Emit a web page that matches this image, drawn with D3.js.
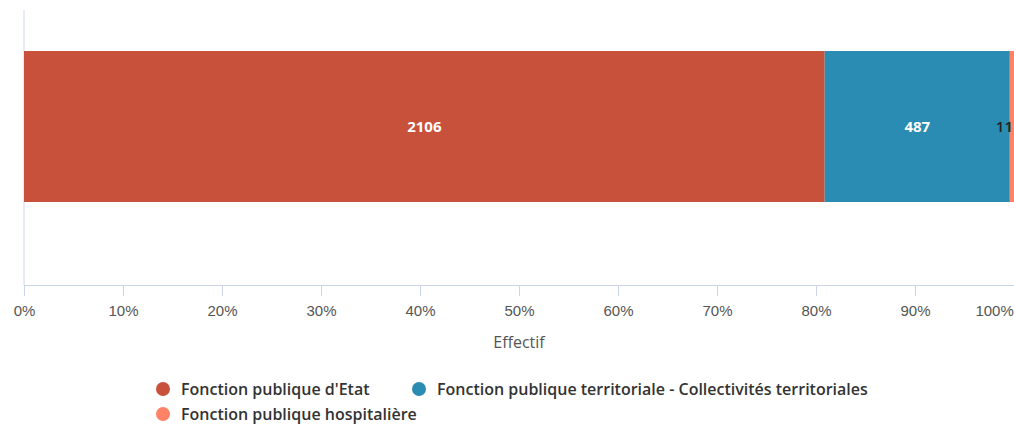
<!DOCTYPE html>
<html>
<head>
<meta charset="utf-8">
<script src="https://cdn.jsdelivr.net/npm/d3@7"></script>
<style>
  body { margin: 0; background: #fff; }
  svg { display: block; font-family: "Open Sans", "Noto Sans", sans-serif; }
</style>
</head>
<body>
<div id="chart"></div>
<script>
// data
var categories = ["Fonction publique d'Etat", "Fonction publique territoriale - Collectivités territoriales", "Fonction publique hospitalière"];
var values = [2106, 487, 11];
var colors = ["#c8513c", "#2a8cb2", "#fe8266"];
var tickValues = [0, 0.1, 0.2, 0.3, 0.4, 0.5, 0.6, 0.7, 0.8, 0.9, 1];

const width = 1014, height = 424;
const margin = {top: 10, right: 0, bottom: 139, left: 24};

const svg = d3.select("#chart")
  .append("svg")
  .attr("width", width)
  .attr("height", height);

const total = d3.sum(values);

const x = d3.scaleLinear()
  .domain([0, 1])
  .range([margin.left, width - margin.right]);

// bar band sits in the upper part of the plot
const y = d3.scaleBand()
  .domain(["Effectif"])
  .range([51, 202]);

// stacked segments
var acc = 0;
var segs = values.map(function(v, i) {
  var s = {start: acc / total, end: (acc + v) / total, value: v, color: colors[i]};
  acc += v;
  return s;
});

// y axis line
svg.append("line")
  .attr("x1", margin.left).attr("x2", margin.left)
  .attr("y1", margin.top).attr("y2", height - margin.bottom)
  .attr("stroke", "#ccd6eb");

svg.selectAll("rect.seg")
  .data(segs)
  .enter()
  .append("rect")
  .attr("class", "seg")
  .attr("x", d => x(d.start))
  .attr("width", d => x(d.end) - x(d.start))
  .attr("y", y("Effectif"))
  .attr("height", y.bandwidth())
  .attr("fill", d => d.color);

// tiny last segment: label pushed left so it stays inside the page
svg.selectAll("text.lbl")
  .data(segs)
  .enter()
  .append("text")
  .attr("class", "lbl")
  .attr("x", (d, i) => i < 2 ? (x(d.start) + x(d.end)) / 2 : x(d.end) - 1)
  .attr("y", y("Effectif") + y.bandwidth() / 2)
  .attr("dy", "0.35em")
  .attr("text-anchor", (d, i) => i < 2 ? "middle" : "end")
  .attr("font-size", 15)
  .attr("font-weight", (d, i) => i < 2 ? "bold" : 600)
  .attr("fill", (d, i) => i < 2 ? "#fff" : "#222")
  .text(d => d.value);

// x axis
const xAxis = svg.append("g")
  .attr("transform", `translate(0, ${height - margin.bottom})`)
  .call(d3.axisBottom(x).tickValues(tickValues).tickFormat(d3.format(".0%")).tickSize(11).tickPadding(9));
xAxis.select(".domain").attr("stroke", "#ccd6eb");
xAxis.selectAll(".tick line").attr("stroke", "#ccd6eb");
xAxis.selectAll(".tick text").attr("fill", "#555").attr("font-size", 15);
xAxis.selectAll(".tick").filter(d => d === 1).select("text")
  .attr("text-anchor", "end").attr("dx", "-0.05em");

svg.append("text")
  .attr("x", (x(0) + x(1)) / 2)
  .attr("y", 348)
  .attr("text-anchor", "middle")
  .attr("font-size", 16)
  .attr("fill", "#555")
  .text("Effectif");

// legend
const legendPos = [[163, 389], [419, 389], [163, 414]];
const legend = svg.selectAll("g.legend")
  .data(categories)
  .enter()
  .append("g")
  .attr("class", "legend")
  .attr("transform", (d, i) => `translate(${legendPos[i][0]}, ${legendPos[i][1]})`);
legend.append("circle")
  .attr("r", 7)
  .attr("fill", (d, i) => colors[i]);
legend.append("text")
  .attr("x", 18)
  .attr("dy", "0.35em")
  .attr("font-size", 16)
  .attr("font-weight", 600)
  .attr("fill", "#333")
  .text(d => d);
</script>
</body>
</html>
